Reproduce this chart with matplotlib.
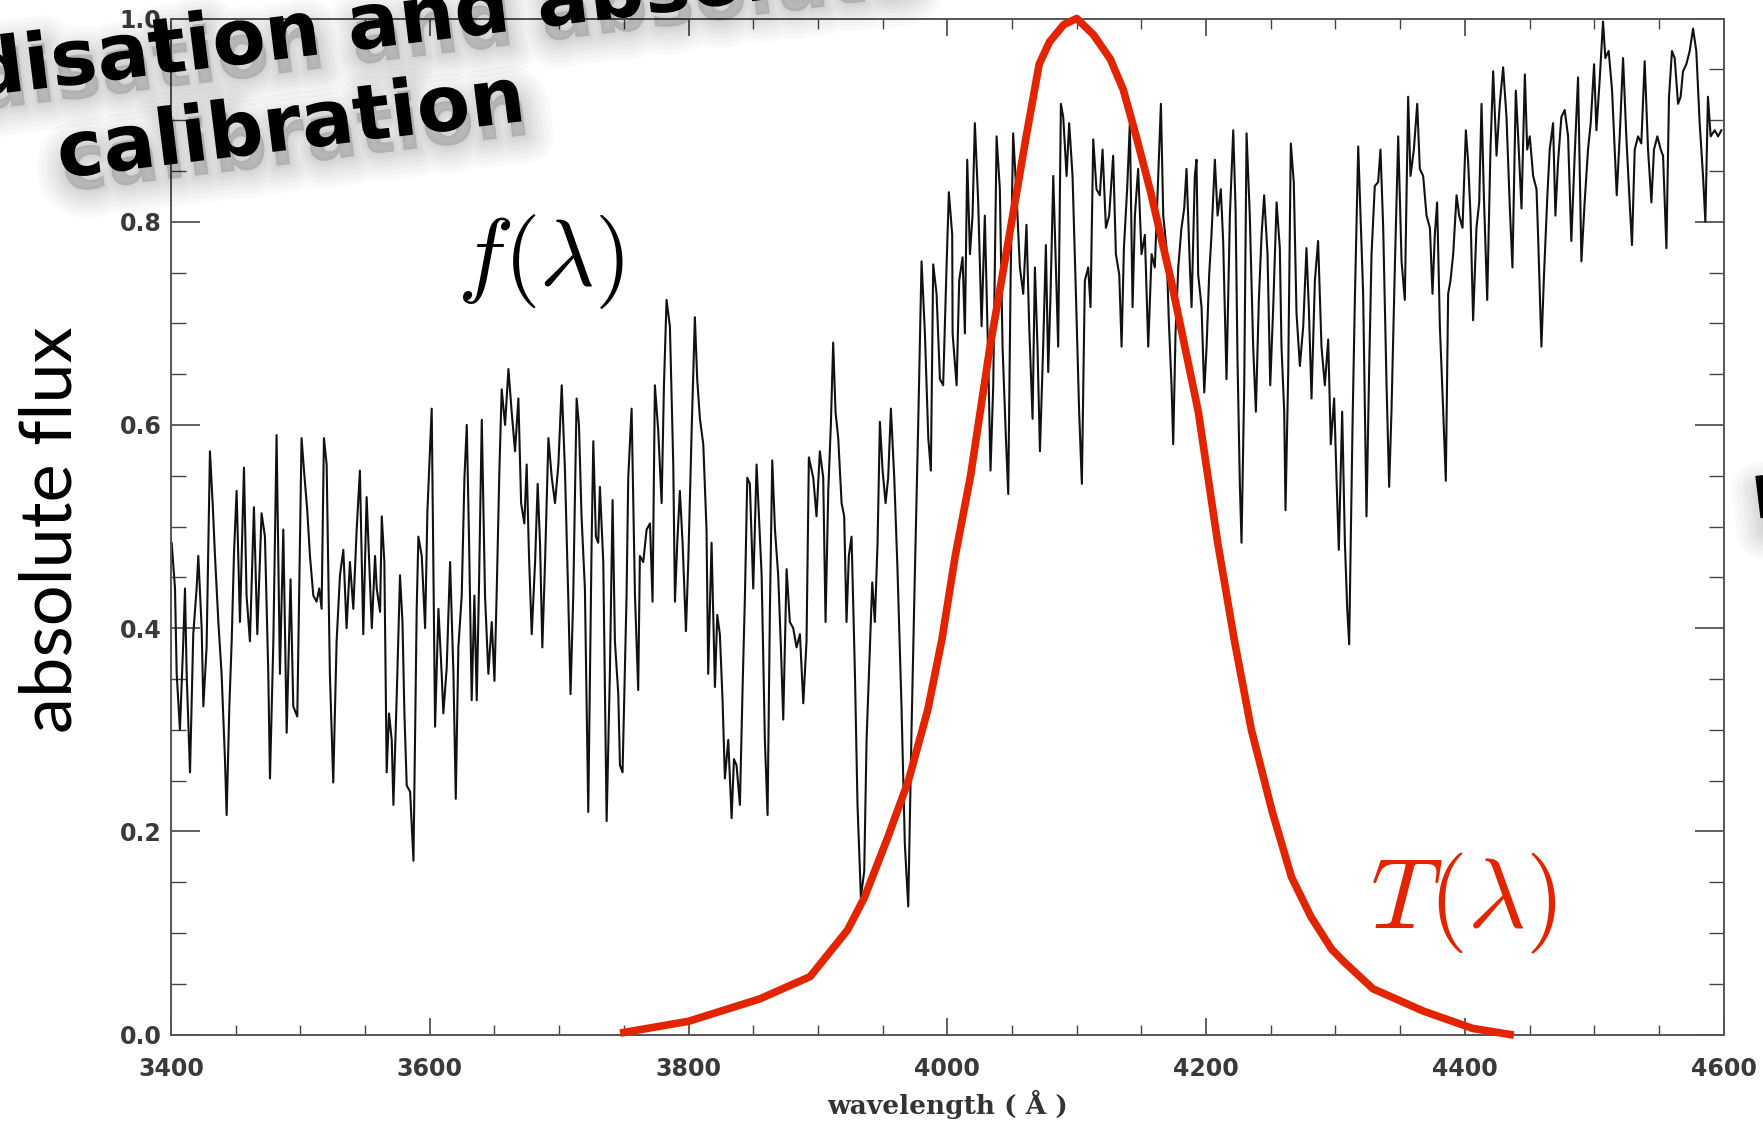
import matplotlib
matplotlib.use('Agg')
import matplotlib.pyplot as plt
import matplotlib.patheffects as pe
from matplotlib.ticker import MultipleLocator

# spectrum f(lambda)
wave = [
    3400.5, 3403.1, 3404.4, 3406.9, 3409.5, 3410.8, 3412.1, 3414.7, 3417.2, 3419.8,
    3421.1, 3423.7, 3425.0, 3427.5, 3430.1, 3432.2, 3434.0, 3436.6, 3439.1, 3441.7,
    3443.0, 3445.1, 3446.9, 3448.7, 3450.7, 3453.3, 3456.4, 3458.4, 3461.0, 3464.1,
    3466.7, 3470.0, 3472.6, 3475.2, 3476.5, 3479.1, 3481.6, 3484.2, 3486.8, 3489.4,
    3492.4, 3494.5, 3497.6, 3500.9, 3502.8, 3505.3, 3507.4, 3510.0, 3512.5, 3514.6,
    3516.4, 3518.2, 3520.3, 3522.8, 3525.4, 3528.0, 3530.6, 3533.2, 3535.7, 3538.3,
    3540.9, 3543.5, 3546.0, 3548.6, 3551.2,
    3555.2, 3557.7, 3559.0, 3561.6, 3562.9, 3564.9, 3566.7, 3568.5, 3570.6, 3571.9,
    3574.5, 3577.0, 3578.9, 3580.4, 3582.2, 3584.8, 3587.4, 3589.9, 3591.2, 3593.8,
    3596.4, 3598.2, 3601.5, 3604.1, 3606.7, 3609.2, 3610.5, 3613.1, 3615.7, 3618.3,
    3620.1, 3622.1, 3624.7, 3626.8, 3628.6, 3630.4, 3632.4, 3634.5, 3636.3, 3638.1,
    3640.2, 3642.7, 3645.3, 3647.9, 3650.0, 3651.8, 3653.8, 3655.6, 3658.2, 3660.8,
    3663.3, 3665.9, 3668.5, 3670.6, 3673.1, 3674.9, 3676.7, 3678.8, 3681.4, 3683.4,
    3685.2, 3687.0, 3689.1, 3691.7, 3694.3, 3696.8, 3699.4, 3702.0,
    3704.5, 3707.0, 3708.8, 3710.9, 3713.5, 3715.3, 3717.3, 3719.9, 3722.5, 3725.1,
    3726.4, 3728.4, 3730.2, 3731.5, 3734.1, 3736.7, 3739.2, 3741.3, 3743.1, 3745.7,
    3747.0, 3749.0, 3752.1, 3753.4, 3756.0, 3758.6, 3761.1, 3762.4, 3765.0, 3767.6,
    3770.2, 3772.2, 3774.0, 3776.6, 3779.2, 3781.0, 3783.0, 3785.6, 3788.2, 3789.5,
    3791.3, 3793.3, 3795.4, 3798.0, 3799.8, 3802.4, 3804.9, 3806.7, 3808.8, 3811.4,
    3813.9, 3815.2, 3817.8, 3820.4, 3822.2, 3824.2, 3826.3, 3828.1, 3830.7, 3833.3,
    3835.1, 3837.1, 3839.7, 3841.8, 3843.6, 3845.4, 3847.4, 3850.0, 3852.6,
    3856.5, 3859.0, 3861.1, 3862.9, 3864.7, 3866.8, 3869.3, 3871.4, 3873.2, 3875.8,
    3878.3, 3880.9, 3883.5, 3886.1, 3888.7, 3891.2, 3893.0, 3896.4, 3898.9, 3901.5,
    3904.1, 3905.9, 3908.0, 3910.0, 3911.8, 3913.6, 3915.7, 3918.3, 3920.3, 3922.1,
    3923.9, 3926.0, 3928.6, 3930.6, 3933.2, 3935.8, 3937.6, 3940.2, 3942.0, 3944.0,
    3946.1, 3947.9, 3950.0, 3952.3, 3954.3, 3956.4, 3959.0, 3961.5, 3964.6, 3967.2,
    3969.8, 3972.4, 3974.9, 3977.5, 3980.1, 3982.7, 3985.3, 3987.3, 3989.1, 3991.7,
    3994.3, 3996.8, 3999.4, 4001.2, 4003.8,
    4004.1, 4007.2, 4009.2, 4011.8, 4013.6, 4015.4, 4017.5, 4019.5, 4021.3, 4023.9,
    4026.5, 4029.0, 4031.6, 4033.4, 4035.5, 4038.1, 4040.6, 4042.7, 4045.3, 4047.1,
    4048.9, 4050.9, 4053.5, 4056.1, 4058.7, 4061.2, 4063.3, 4065.9, 4067.7, 4069.7,
    4071.6, 4074.1, 4076.2, 4078.0, 4079.8, 4081.9, 4083.9, 4085.7, 4087.8, 4089.6,
    4092.2, 4094.2, 4096.8, 4099.4, 4101.9, 4104.0, 4106.3, 4108.9, 4110.7, 4112.8,
    4115.3, 4117.9, 4120.0, 4122.6, 4125.1, 4128.2, 4130.3, 4132.9, 4134.7, 4136.5,
    4139.0, 4141.1, 4143.2, 4145.0, 4147.5, 4150.1, 4152.7,
    4155.3, 4157.9, 4160.4, 4163.0, 4165.1, 4166.9, 4169.4, 4171.2, 4173.3, 4174.6,
    4176.4, 4178.5, 4181.0, 4183.1, 4184.9, 4187.5, 4188.8, 4191.3, 4192.6, 4193.9,
    4196.5, 4198.6, 4200.4, 4202.4, 4204.2, 4206.8, 4208.9, 4211.4, 4213.2, 4215.8,
    4218.4, 4221.0, 4222.8, 4224.3, 4226.1, 4227.4, 4229.5, 4231.3, 4233.8, 4236.4,
    4238.5, 4240.8, 4242.9, 4244.9, 4247.5, 4249.6, 4251.9, 4254.5, 4257.0, 4258.3,
    4260.4, 4261.4, 4263.5, 4265.5, 4267.8, 4269.9, 4272.5, 4275.1, 4277.6, 4279.4,
    4281.5, 4284.1, 4286.6, 4289.2, 4291.8, 4294.4, 4296.4, 4299.0, 4300.8, 4302.6,
    4305.2,
    4307.3, 4309.1, 4310.6, 4313.2, 4315.0, 4317.6, 4319.4, 4321.4, 4324.0, 4326.1,
    4327.9, 4330.4, 4333.0, 4334.8, 4336.9, 4339.5, 4341.5, 4343.3, 4345.9, 4348.5,
    4351.1, 4353.6, 4356.2, 4358.0, 4360.6, 4363.2, 4365.2, 4367.8, 4370.4, 4373.0,
    4375.0, 4376.8, 4378.6, 4380.7, 4383.3, 4385.3, 4387.1, 4388.9, 4391.0, 4393.6,
    4395.6, 4398.2, 4400.8, 4402.6, 4404.4, 4406.4, 4409.0, 4411.1, 4412.9, 4414.7,
    4417.3, 4419.8, 4421.9, 4424.5, 4427.0, 4429.6, 4432.2, 4434.8, 4436.8, 4439.4,
    4441.2, 4443.8, 4446.4, 4448.2, 4450.2, 4452.8, 4455.4,
    4456.6, 4459.2, 4461.2, 4463.8, 4465.6, 4468.2, 4470.0, 4472.0, 4474.6, 4477.2,
    4479.8, 4482.3, 4484.9, 4487.5, 4490.1, 4492.6, 4495.2, 4497.3, 4499.9, 4501.7,
    4504.2, 4506.8, 4508.6, 4511.2, 4513.8, 4515.8, 4517.4, 4519.7, 4522.3, 4524.8,
    4527.4, 4529.2, 4531.3, 4533.9, 4536.4, 4539.0, 4541.6, 4544.2, 4546.2, 4548.8,
    4551.4, 4553.2, 4555.8, 4557.8, 4560.1, 4562.2, 4564.8, 4566.8, 4568.6, 4571.2,
    4573.8, 4576.4, 4578.9, 4581.5, 4584.1, 4585.9, 4587.9, 4590.0, 4593.1, 4595.7,
    4598.3,
]
flux = [
    0.484, 0.439, 0.355, 0.300, 0.387, 0.439, 0.355, 0.258, 0.394, 0.439,
    0.471, 0.400, 0.323, 0.381, 0.574, 0.523, 0.471, 0.406, 0.355, 0.271,
    0.216, 0.323, 0.387, 0.474, 0.535, 0.406, 0.558, 0.432, 0.387, 0.519,
    0.394, 0.513, 0.490, 0.355, 0.252, 0.387, 0.590, 0.355, 0.497, 0.297,
    0.448, 0.323, 0.313, 0.587, 0.555, 0.516, 0.471, 0.432, 0.426, 0.439,
    0.419, 0.587, 0.561, 0.355, 0.248, 0.387, 0.452, 0.477, 0.400, 0.465,
    0.419, 0.497, 0.555, 0.394, 0.529,
    0.400, 0.471, 0.439, 0.416, 0.510, 0.465, 0.258, 0.316, 0.290, 0.226,
    0.335, 0.452, 0.406, 0.316, 0.245, 0.239, 0.171, 0.419, 0.490, 0.471,
    0.400, 0.516, 0.616, 0.303, 0.419, 0.355, 0.316, 0.361, 0.465, 0.355,
    0.232, 0.381, 0.432, 0.548, 0.600, 0.484, 0.329, 0.432, 0.329, 0.445,
    0.605, 0.432, 0.355, 0.406, 0.348, 0.439, 0.555, 0.635, 0.600, 0.655,
    0.613, 0.574, 0.626, 0.523, 0.503, 0.561, 0.471, 0.394, 0.465, 0.542,
    0.484, 0.381, 0.465, 0.587, 0.548, 0.523, 0.561, 0.639,
    0.555, 0.432, 0.335, 0.432, 0.626, 0.600, 0.510, 0.439, 0.219, 0.484,
    0.584, 0.490, 0.484, 0.539, 0.465, 0.210, 0.355, 0.526, 0.387, 0.335,
    0.265, 0.258, 0.432, 0.548, 0.616, 0.432, 0.339, 0.471, 0.465, 0.497,
    0.503, 0.426, 0.639, 0.594, 0.523, 0.639, 0.723, 0.697, 0.561, 0.426,
    0.484, 0.535, 0.484, 0.397, 0.465, 0.594, 0.706, 0.645, 0.606, 0.581,
    0.497, 0.355, 0.484, 0.342, 0.413, 0.394, 0.329, 0.252, 0.290, 0.213,
    0.271, 0.265, 0.226, 0.342, 0.432, 0.548, 0.542, 0.439, 0.561,
    0.452, 0.290, 0.216, 0.419, 0.565, 0.497, 0.452, 0.381, 0.310, 0.458,
    0.406, 0.400, 0.381, 0.394, 0.326, 0.387, 0.568, 0.548, 0.510, 0.574,
    0.548, 0.406, 0.535, 0.600, 0.681, 0.613, 0.587, 0.523, 0.510, 0.406,
    0.471, 0.490, 0.355, 0.226, 0.135, 0.161, 0.290, 0.381, 0.445, 0.406,
    0.484, 0.603, 0.555, 0.523, 0.548, 0.616, 0.548, 0.458, 0.323, 0.187,
    0.126, 0.303, 0.452, 0.600, 0.761, 0.690, 0.587, 0.555, 0.758, 0.729,
    0.645, 0.639, 0.755, 0.829, 0.787,
    0.690, 0.639, 0.742, 0.765, 0.690, 0.861, 0.768, 0.806, 0.897, 0.819,
    0.697, 0.806, 0.665, 0.555, 0.639, 0.884, 0.832, 0.677, 0.587, 0.532,
    0.742, 0.887, 0.826, 0.755, 0.729, 0.797, 0.697, 0.606, 0.755, 0.677,
    0.574, 0.677, 0.777, 0.652, 0.729, 0.845, 0.755, 0.677, 0.916, 0.903,
    0.845, 0.897, 0.845, 0.729, 0.613, 0.542, 0.742, 0.755, 0.716, 0.881,
    0.832, 0.826, 0.871, 0.794, 0.806, 0.865, 0.768, 0.748, 0.677, 0.774,
    0.832, 0.897, 0.716, 0.806, 0.852, 0.768, 0.787,
    0.677, 0.768, 0.755, 0.845, 0.916, 0.806, 0.774, 0.703, 0.639, 0.581,
    0.690, 0.755, 0.794, 0.813, 0.852, 0.755, 0.716, 0.845, 0.861, 0.748,
    0.716, 0.632, 0.677, 0.748, 0.787, 0.861, 0.806, 0.832, 0.781, 0.645,
    0.806, 0.890, 0.813, 0.665, 0.542, 0.484, 0.639, 0.887, 0.806, 0.677,
    0.613, 0.723, 0.787, 0.826, 0.768, 0.639, 0.716, 0.819, 0.774, 0.677,
    0.613, 0.516, 0.652, 0.877, 0.839, 0.710, 0.658, 0.697, 0.774, 0.716,
    0.626, 0.742, 0.781, 0.677, 0.639, 0.684, 0.581, 0.626, 0.548, 0.477,
    0.613,
    0.484, 0.419, 0.384, 0.600, 0.723, 0.874, 0.806, 0.729, 0.510, 0.658,
    0.768, 0.835, 0.839, 0.871, 0.794, 0.639, 0.539, 0.613, 0.755, 0.884,
    0.761, 0.723, 0.923, 0.845, 0.871, 0.916, 0.852, 0.845, 0.806, 0.794,
    0.729, 0.787, 0.819, 0.697, 0.613, 0.545, 0.729, 0.742, 0.768, 0.826,
    0.806, 0.794, 0.890, 0.858, 0.806, 0.703, 0.794, 0.819, 0.916, 0.826,
    0.723, 0.871, 0.948, 0.865, 0.916, 0.952, 0.903, 0.813, 0.755, 0.929,
    0.884, 0.813, 0.945, 0.871, 0.884, 0.845, 0.832,
    0.787, 0.677, 0.748, 0.826, 0.871, 0.897, 0.806, 0.858, 0.903, 0.910,
    0.884, 0.781, 0.865, 0.942, 0.761, 0.819, 0.871, 0.897, 0.955, 0.890,
    0.939, 0.997, 0.961, 0.968, 0.929, 0.871, 0.826, 0.884, 0.961, 0.884,
    0.819, 0.777, 0.871, 0.884, 0.877, 0.958, 0.871, 0.819, 0.871, 0.884,
    0.871, 0.865, 0.774, 0.923, 0.968, 0.961, 0.916, 0.923, 0.948, 0.955,
    0.968, 0.990, 0.968, 0.897, 0.845, 0.800, 0.923, 0.884, 0.890, 0.884,
    0.890,
]

# filter transmission T(lambda)
filter_wave = [
    3750, 3800, 3855, 3894, 3923, 3936, 3954, 3970, 3985, 3996,
    4006, 4018, 4033, 4048, 4061, 4071, 4079, 4090, 4100, 4113,
    4126, 4136, 4146, 4157, 4173, 4194, 4209, 4222, 4235, 4251,
    4266, 4281, 4297, 4307, 4329, 4368, 4406, 4435,
]
filter_trans = [
    0.002, 0.013, 0.035, 0.057, 0.103, 0.135, 0.194, 0.25, 0.32, 0.39,
    0.47, 0.55, 0.677, 0.787, 0.884, 0.955, 0.977, 0.994, 1.0, 0.984,
    0.96, 0.93, 0.884, 0.83, 0.742, 0.613, 0.484, 0.387, 0.30, 0.22,
    0.155, 0.116, 0.084, 0.071, 0.045, 0.023, 0.006, 0.0,
]

xticks = [3400, 3600, 3800, 4000, 4200, 4400, 4600]
yticks = [0.0, 0.2, 0.4, 0.6, 0.8, 1.0]
ytick_labels = ['0.0', '0.2', '0.4', '0.6', '0.8', '1.0']

assert len(wave) == len(flux)
assert len(filter_wave) == len(filter_trans)

W, H = 1763, 1122
RED = '#e32400'


def fx(px):
    return px / W


def fy(py):
    return 1 - py / H


plt.rcParams['mathtext.fontset'] = 'cm'

fig = plt.figure(figsize=(W / 100, H / 100), dpi=100)
ax = fig.add_axes([fx(171), fy(1034.5), (1723.6 - 171) / W, (1034.5 - 18.5) / H])

ax.plot(wave, flux, color='#111111', lw=1.5, zorder=2)
ax.plot(filter_wave, filter_trans, color=RED, lw=5.5, zorder=3, clip_on=False)

ax.set_xlim(3400, 4600)
ax.set_ylim(0, 1.0)
ax.set_xticks(xticks)
ax.set_yticks(yticks)
ax.set_yticklabels(ytick_labels)
ax.xaxis.set_minor_locator(MultipleLocator(50))
ax.yaxis.set_minor_locator(MultipleLocator(0.05))

ax.tick_params(which='both', direction='in', top=True, right=True, color='#444444')
ax.tick_params(axis='y', which='major', length=21, width=1.2, pad=7)
ax.tick_params(axis='y', which='minor', length=11, width=1.0)
ax.tick_params(axis='x', which='major', length=12, width=1.2, pad=16)
ax.tick_params(axis='x', which='minor', length=7, width=1.0)
for lab in ax.get_xticklabels() + ax.get_yticklabels():
    lab.set_family('DejaVu Sans')
    lab.set_fontweight('bold')
    lab.set_fontsize(17)
    lab.set_color('#3a3a3a')
for sp in ax.spines.values():
    sp.set_color('#555555')
    sp.set_linewidth(1.4)

fig.text(fx(948), fy(1104), 'wavelength ( Å )', family='DejaVu Serif',
         fontweight='bold', fontsize=19, color='#333333', ha='center', va='center')
fig.text(fx(51), fy(530), 'absolute flux', family='Lato', fontsize=52,
         rotation=90, ha='center', va='center', color='black')

fig.text(fx(457), fy(262), r'$f(\lambda)$', fontsize=68, ha='left', va='center',
         color='black')
fig.text(fx(1370), fy(903), r'$T(\lambda)$', fontsize=72, ha='left', va='center',
         color=RED)

# soft drop shadow under the slide title
shadow = [pe.Stroke(linewidth=lw, foreground='black', alpha=0.022, offset=(3, -10))
          for lw in (40, 33, 26, 20, 14, 9, 4)]
shadow.append(pe.Normal())
title_kw = dict(family='DejaVu Sans', fontweight='bold', fontsize=56,
                rotation=7, rotation_mode='anchor', ha='left', va='baseline',
                color='black', path_effects=shadow, zorder=10)
fig.text(fx(-28), fy(97), 'disation and absolute', **title_kw)
fig.text(fx(60), fy(178), 'calibration', **title_kw)
fig.text(fx(1754), fy(519), 'n', **title_kw)

fig.savefig('out.png', dpi=100)
